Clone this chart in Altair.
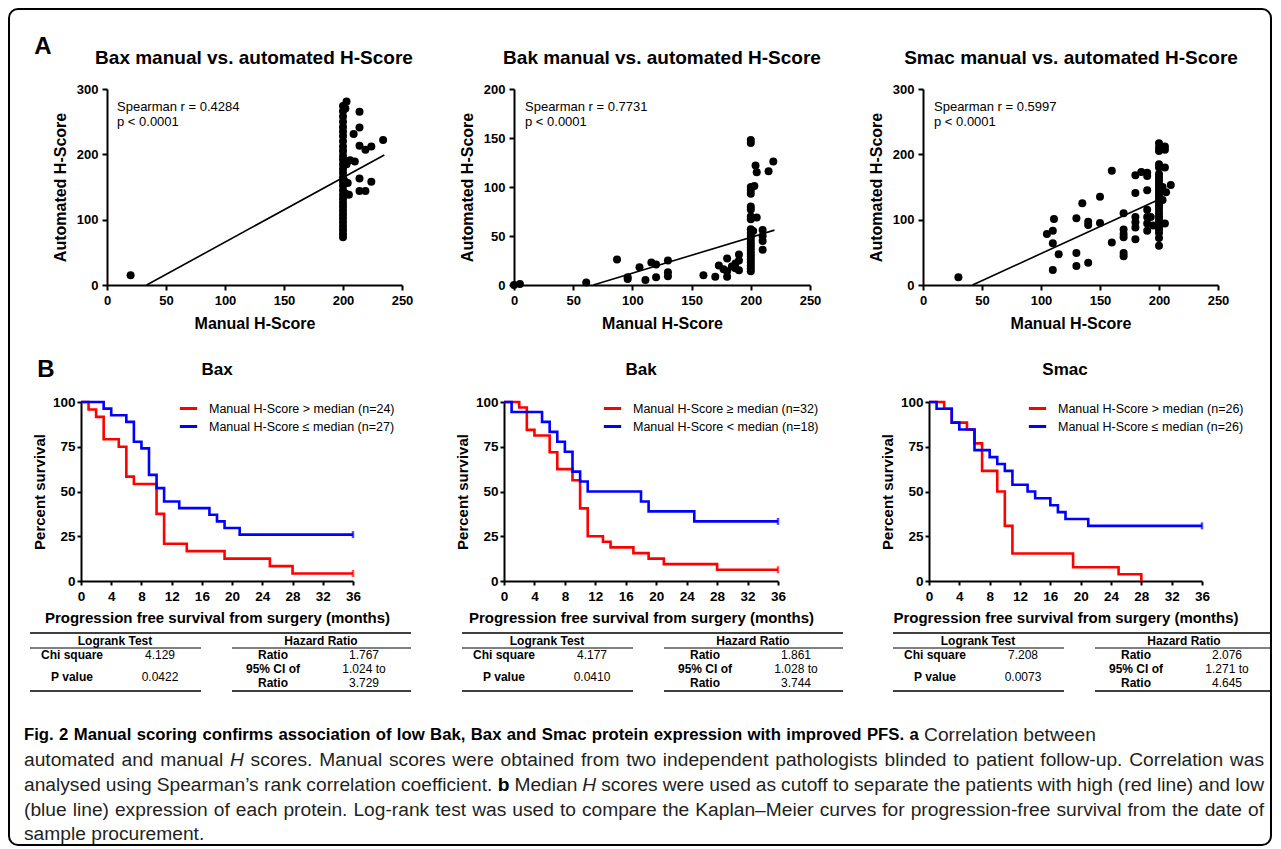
import altair as alt
import pandas as pd

# ---------------- data ----------------
BAX_MANUAL = [20,
              200, 200, 200, 200, 200, 200, 200, 200, 200, 200, 200, 200, 200, 200, 200, 200,
              200, 200, 200, 200, 200, 200, 200, 200, 200, 200, 200, 200, 200, 200, 200,
              203, 202, 202, 203, 201,
              214, 214, 209, 234, 224, 219, 214, 206, 210, 214, 224, 214, 219, 204, 205]
BAX_AUTO = [15,
            73, 78, 84, 90, 96, 102, 108, 114, 120, 126, 132, 138, 145, 152, 158, 165,
            172, 178, 185, 192, 198, 205, 212, 220, 228, 235, 242, 250, 258, 266, 274,
            281, 270, 140, 185, 160,
            265, 241, 231, 222, 212, 207, 213, 191, 189, 163, 158, 144, 144, 156, 138]
BAX_FIT_MANUAL = [33.6, 235]
BAX_FIT_AUTO = [0, 199]

BAK_MANUAL = [0, 5, 61, 87, 96, 96, 106, 111, 116, 120, 120, 130, 130, 130, 160, 170, 173,
              177, 180, 180, 180, 184, 187, 187, 190, 190, 190,
              200, 200, 200, 200, 200, 200, 200, 200, 200, 200, 200, 200,
              200, 200, 200, 200, 200, 200, 200, 200, 200, 200, 200, 200,
              204, 205, 203, 205, 202, 210, 210, 210, 210, 219, 215]
BAK_AUTO = [0, 1, 2.5, 26, 6, 8, 18, 5, 23, 21, 8, 25, 13, 9, 10, 8.5, 20,
            16, 27, 14, 8.5, 19, 22, 17, 15, 25, 31,
            148, 145, 100, 97, 93, 80, 77, 70, 67, 57, 53, 50,
            47, 44, 41, 38, 35, 32, 29, 26, 23, 20, 17, 14,
            122, 115, 101, 69, 55, 56, 50, 45, 36, 126, 116]
BAK_FIT_MANUAL = [67, 220]
BAK_FIT_AUTO = [0, 56]

SMAC_MANUAL = [30, 105, 110, 111, 110, 110, 115, 130, 130, 130, 135, 140, 140, 140, 150, 150,
               160, 160, 170, 170, 170, 170, 170, 170, 180, 180, 180, 180, 180, 180, 185,
               190, 190, 190, 190, 190, 190, 190, 193, 195,
               200, 200, 200, 200, 200, 200, 200, 200, 200, 200, 200, 200, 200,
               200, 200, 200, 200, 200, 200, 200, 200, 200, 200, 200, 200, 200,
               205, 205, 205, 205, 206, 210, 203, 203]
SMAC_AUTO = [12, 78, 83, 101, 64, 23, 47, 102, 49, 29, 125, 97, 92, 34, 95, 135,
             175, 65, 110, 85, 78, 73, 49, 44, 168, 141, 104, 96, 88, 70, 173,
             172, 167, 145, 115, 104, 94, 83, 104, 91,
             217, 210, 205, 185, 180, 170, 165, 160, 155, 150, 145, 140, 135,
             130, 125, 120, 115, 110, 105, 100, 95, 90, 85, 80, 72, 60,
             212, 207, 180, 94, 142, 153, 150, 130]
SMAC_FIT_MANUAL = [42, 200]
SMAC_FIT_AUTO = [0, 131]

BAX_HI_T = [0, 1, 2, 3, 5, 6, 7, 10, 11, 14, 19, 25, 28, 36]
BAX_HI_S = [100, 95.8, 91.7, 79.2, 75.0, 58.3, 54.2, 37.5, 20.8, 16.7, 12.5, 8.3, 4.2, 4.2]
BAX_LO_T = [0, 3, 4, 6, 7, 8, 9, 10, 11, 13, 17, 18, 19, 21, 36]
BAX_LO_S = [100, 96.3, 92.6, 88.9, 77.8, 74.1, 59.3, 51.9, 44.4, 40.7, 37.0, 33.3, 29.6, 25.9, 25.9]
BAK_HI_T = [0, 2, 3, 4, 6, 7, 9, 10, 11, 13, 14, 17, 19, 21, 28, 36]
BAK_HI_S = [100, 96.9, 84.4, 81.3, 71.9, 62.5, 56.3, 40.6, 25.0, 21.9, 18.8, 15.6, 12.5, 9.4, 6.3, 6.3]
BAK_LO_T = [0, 1, 5, 6, 7, 8, 9, 10, 11, 18, 19, 25, 36]
BAK_LO_S = [100, 94.4, 88.9, 83.3, 77.8, 72.2, 61.1, 55.6, 50.0, 44.4, 38.9, 33.3, 33.3]
SMAC_HI_T = [0, 2, 3, 5, 6, 7, 9, 10, 11, 19, 25, 28]
SMAC_HI_S = [100, 96.2, 88.5, 84.6, 76.9, 61.5, 50.0, 30.8, 15.4, 7.7, 3.8, 0]
SMAC_LO_T = [0, 1, 3, 4, 6, 8, 9, 10, 11, 13, 14, 16, 17, 18, 21, 36]
SMAC_LO_S = [100, 96.2, 88.5, 84.6, 73.1, 69.2, 65.4, 61.5, 53.8, 50.0, 46.2, 42.3, 38.5, 34.6, 30.8, 30.8]

SCATTER_XTICKS = [0, 50, 100, 150, 200, 250]
SCATTER_YTICKS = [[0, 100, 200, 300], [0, 50, 100, 150, 200], [0, 100, 200, 300]]
SCATTER_YMAX = [300, 200, 300]
KM_XTICKS = [0, 4, 8, 12, 16, 20, 24, 28, 32, 36]
KM_YTICKS = [0, 25, 50, 75, 100]

SCATTER_TITLES = ["Bax manual vs. automated H-Score", "Bak manual vs. automated H-Score",
                  "Smac manual vs. automated H-Score"]
SPEARMAN_R = ["Spearman r = 0.4284", "Spearman r = 0.7731", "Spearman r = 0.5997"]
SPEARMAN_P = ["p < 0.0001", "p < 0.0001", "p < 0.0001"]
KM_TITLES = ["Bax", "Bak", "Smac"]
KM_LEGENDS = [["Manual H-Score > median (n=24)", "Manual H-Score \u2264 median (n=27)"],
              ["Manual H-Score \u2265 median (n=32)", "Manual H-Score < median (n=18)"],
              ["Manual H-Score > median (n=26)", "Manual H-Score \u2264 median (n=26)"]]
CHI_SQUARE = ["4.129", "4.177", "7.208"]
P_VALUE = ["0.0422", "0.0410", "0.0073"]
HR_RATIO = ["1.767", "1.861", "2.076"]
CI_LOW = ["1.024 to", "1.028 to", "1.271 to"]
CI_HIGH = ["3.729", "3.744", "4.645"]

# caption: runs of (text, style) per line; b = bold, r = regular, i = italic
CAPTION_RUNS = [
    [("Fig. 2 Manual scoring confirms association of low Bak, Bax and Smac protein expression "
      "with improved PFS. a", "b"), ("Correlation between", "r")],
    [("automated and manual", "r"), ("H", "i"),
     ("scores. Manual scores were obtained from two independent pathologists blinded to "
      "patient follow-up. Correlation was", "r")],
    [("analysed using Spearman\u2019s rank correlation coefficient.", "r"), ("b", "b"),
     ("Median", "r"), ("H", "i"),
     ("scores were used as cutoff to separate the patients with high (red line) and low", "r")],
    [("(blue line) expression of each protein. Log-rank test was used to compare the "
      "Kaplan\u2013Meier curves for progression-free survival from the date of", "r")],
    [("sample procurement.", "r")],
]
CAPTION_JUSTIFY = [False, True, True, True, False]

# ---------------- layout ----------------
W, H = 1265, 841
SANS = "Liberation Sans"


def cx(v):
    return v - 8


def cy(v):
    return v - 8


ONE = pd.DataFrame({"k": [0]})


def txt(s, x, y, size, weight="normal", align="left", font=SANS, color="black", style="normal"):
    return alt.Chart(ONE).mark_text(
        text=s, font=font, fontSize=size, fontWeight=weight, fontStyle=style,
        align=align, baseline="middle", color=color
    ).encode(x=alt.value(cx(x)), y=alt.value(cy(y)))


def hline(x0, x1, y, w=1.2):
    return alt.Chart(ONE).mark_rule(color="black", strokeWidth=w).encode(
        x=alt.value(cx(x0)), x2=alt.value(min(cx(x1), W - 3)), y=alt.value(cy(y)))


layers = []

# ---------------- panel A: scatter plots ----------------
SC_X0 = [107, 514, 923]
SC_X1 = [402, 810, 1218]
SC_YB, SC_YT = 285, 89
SC_TITLE_X = [254, 662, 1071]
SP_X = [117, 525, 934]
scatter_data = [(BAX_MANUAL, BAX_AUTO, BAX_FIT_MANUAL, BAX_FIT_AUTO),
                (BAK_MANUAL, BAK_AUTO, BAK_FIT_MANUAL, BAK_FIT_AUTO),
                (SMAC_MANUAL, SMAC_AUTO, SMAC_FIT_MANUAL, SMAC_FIT_AUTO)]

for i, (xs, ys, fx, fy) in enumerate(scatter_data):
    x0, x1 = cx(SC_X0[i]), cx(SC_X1[i])
    yb, yt = cy(SC_YB), cy(SC_YT)
    xsc = alt.Scale(domain=[0, 250], range=[x0, x1], nice=False, zero=False)
    ysc = alt.Scale(domain=[0, SCATTER_YMAX[i]], range=[yb, yt], nice=False, zero=False)
    xaxis = alt.Axis(orient="bottom", offset=yb - H, values=SCATTER_XTICKS, title="Manual H-Score",
                     titleX=(x0 + x1) / 2, titleY=38, titleAlign="center", titleBaseline="middle",
                     titleFontSize=16, labelFontSize=13, tickSize=5, labelPadding=4)
    yaxis = alt.Axis(orient="left", offset=-x0, values=SCATTER_YTICKS[i], title="Automated H-Score",
                     titleX=-47, titleY=(yb + yt) / 2, titleAngle=270, titleAlign="center",
                     titleBaseline="middle", titleFontSize=16, labelFontSize=13, tickSize=5,
                     labelPadding=4)
    pts = alt.Chart(pd.DataFrame({"manual": xs, "auto": ys})).mark_circle(
        size=64, color="black", opacity=1).encode(
        x=alt.X("manual:Q", scale=xsc, axis=xaxis),
        y=alt.Y("auto:Q", scale=ysc, axis=yaxis))
    fit = alt.Chart(pd.DataFrame({"manual": fx, "auto": fy})).mark_line(
        color="black", strokeWidth=1.6).encode(
        x=alt.X("manual:Q", scale=xsc, axis=None),
        y=alt.Y("auto:Q", scale=ysc, axis=None))
    layers += [pts, fit]
    layers.append(txt(SCATTER_TITLES[i], SC_TITLE_X[i], 58, 19, "bold", "center"))
    layers.append(txt(SPEARMAN_R[i], SP_X[i], 107, 13))
    layers.append(txt(SPEARMAN_P[i], SP_X[i], 122, 13))

layers.append(txt("A", 43, 47, 24, "bold", "center"))

# ---------------- panel B: Kaplan-Meier curves ----------------
KM_X0 = [81, 504, 929]
KM_X1 = [353, 778, 1202]
KM_YB, KM_YT = 581, 402
KM_TITLE_X = [217, 641, 1065]
KM_LEG_X = [178, 602, 1027]
km_data = [(BAX_HI_T, BAX_HI_S, BAX_LO_T, BAX_LO_S),
           (BAK_HI_T, BAK_HI_S, BAK_LO_T, BAK_LO_S),
           (SMAC_HI_T, SMAC_HI_S, SMAC_LO_T, SMAC_LO_S)]

for i, (ht, hs, lt, ls) in enumerate(km_data):
    x0, x1 = cx(KM_X0[i]), cx(KM_X1[i])
    yb, yt = cy(KM_YB), cy(KM_YT)
    labels = KM_LEGENDS[i]
    xsc = alt.Scale(domain=[0, 36], range=[x0, x1], nice=False, zero=False)
    ysc = alt.Scale(domain=[0, 100], range=[yb, yt], nice=False, zero=False)
    xaxis = alt.Axis(orient="bottom", offset=yb - H, values=KM_XTICKS,
                     title="Progression free survival from surgery (months)",
                     titleX=(x0 + x1) / 2, titleY=36, titleAlign="center", titleBaseline="middle",
                     titleFontSize=15, labelFontSize=13.5, tickSize=4, labelPadding=4)
    yaxis = alt.Axis(orient="left", offset=-x0, values=KM_YTICKS, title="Percent survival",
                     titleX=-42, titleY=(yb + yt) / 2, titleAngle=270, titleAlign="center",
                     titleBaseline="middle", titleFontSize=15, labelFontSize=13.5, tickSize=4,
                     labelPadding=2)
    df = pd.DataFrame({"months": ht + lt, "survival": hs + ls,
                       "group": [labels[0]] * len(ht) + [labels[1]] * len(lt)})
    cscale = alt.Scale(domain=labels, range=["#ff0000", "#0000ff"])
    legend = alt.Legend(orient="none", legendX=cx(KM_LEG_X[i]), legendY=cy(398), title=None,
                        symbolType="stroke", symbolSize=300, symbolStrokeWidth=3,
                        labelFont=SANS, labelFontSize=12.5, labelColor="black", labelOffset=10,
                        rowPadding=1, padding=0, labelLimit=0)
    line = alt.Chart(df).mark_line(interpolate="step-after", strokeWidth=2.6).encode(
        x=alt.X("months:Q", scale=xsc, axis=xaxis),
        y=alt.Y("survival:Q", scale=ysc, axis=yaxis),
        color=alt.Color("group:N", scale=cscale, legend=legend))
    ends = df[df["months"] == 36]
    cens = alt.Chart(ends).mark_tick(orient="vertical", size=7, thickness=2.5).encode(
        x=alt.X("months:Q", scale=xsc, axis=None),
        y=alt.Y("survival:Q", scale=ysc, axis=None),
        color=alt.Color("group:N", scale=cscale, legend=None))
    layers += [line, cens]
    layers.append(txt(KM_TITLES[i], KM_TITLE_X[i], 370, 17, "bold", "center"))

layers.append(txt("B", 46, 370, 24, "bold", "center"))

# ---------------- statistics tables ----------------
TB_X0 = [30, 462, 893]
TF = 12
for i, x0 in enumerate(TB_X0):
    layers += [
        hline(x0, x0 + 381, 633, 1.5),
        hline(x0, x0 + 171, 648, 1.2),
        hline(x0 + 202, x0 + 381, 648, 1.2),
        hline(x0, x0 + 171, 691, 1.5),
        hline(x0 + 202, x0 + 381, 691, 1.5),
        txt("Logrank Test", x0 + 85, 641, TF, "bold", "center"),
        txt("Hazard Ratio", x0 + 291, 641, TF, "bold", "center"),
        txt("Chi square", x0 + 42, 655, TF, "bold", "center"),
        txt(CHI_SQUARE[i], x0 + 130, 655, TF, "normal", "center"),
        txt("P value", x0 + 42, 677, TF, "bold", "center"),
        txt(P_VALUE[i], x0 + 130, 677, TF, "normal", "center"),
        txt("Ratio", x0 + 243, 655, TF, "bold", "center"),
        txt(HR_RATIO[i], x0 + 334, 655, TF, "normal", "center"),
        txt("95% CI of", x0 + 243, 669, TF, "bold", "center"),
        txt("Ratio", x0 + 243, 683, TF, "bold", "center"),
        txt(CI_LOW[i], x0 + 334, 669, TF, "normal", "center"),
        txt(CI_HIGH[i], x0 + 334, 683, TF, "normal", "center"),
    ]

# ---------------- caption (justified, word by word) ----------------
# advance widths of Liberation Sans (Arial metrics), per 1000 em
REG_W = {' ': 278, ',': 278, '.': 278, '-': 333, '(': 333, ')': 333, '\u2019': 222, '\u2013': 556,
         'A': 667, 'B': 667, 'C': 722, 'D': 722, 'E': 667, 'F': 611, 'G': 778, 'H': 722, 'I': 278,
         'K': 667, 'L': 556, 'M': 833, 'N': 722, 'O': 778, 'P': 667, 'R': 722, 'S': 667, 'T': 611,
         'a': 556, 'b': 556, 'c': 500, 'd': 556, 'e': 556, 'f': 278, 'g': 556, 'h': 556, 'i': 222,
         'j': 222, 'k': 500, 'l': 222, 'm': 833, 'n': 556, 'o': 556, 'p': 556, 'q': 556, 'r': 333,
         's': 500, 't': 278, 'u': 556, 'v': 500, 'w': 722, 'x': 500, 'y': 500, 'z': 500}
BOLD_W = {' ': 278, ',': 278, '.': 278, '-': 333, '(': 333, ')': 333,
          'A': 722, 'B': 722, 'C': 722, 'D': 722, 'E': 667, 'F': 611, 'G': 778, 'H': 722, 'I': 278,
          'K': 722, 'L': 611, 'M': 833, 'N': 722, 'O': 778, 'P': 667, 'R': 722, 'S': 667, 'T': 611,
          'a': 556, 'b': 611, 'c': 556, 'd': 611, 'e': 556, 'f': 333, 'g': 611, 'h': 611, 'i': 278,
          'j': 278, 'k': 556, 'l': 278, 'm': 889, 'n': 611, 'o': 611, 'p': 611, 'q': 611, 'r': 389,
          's': 556, 't': 333, 'u': 611, 'v': 556, 'w': 778, 'x': 556, 'y': 556, 'z': 500}


def em_width(s, style):
    table = BOLD_W if style == "b" else REG_W
    return sum(table.get(ch, 556) for ch in s) / 1000.0


CAP_SIZE = 19.2
CAP_LEFT, CAP_RIGHT = 24, 1264
CAP_Y = [735, 760, 785, 810, 834]
HEAD_WIDTH = 883  # width of the bold heading run in the reference
HEAD_SIZE = HEAD_WIDTH / em_width(CAPTION_RUNS[0][0][0], "b")

cap_rows = []
for li, runs in enumerate(CAPTION_RUNS):
    words = []
    for text, st in runs:
        size = HEAD_SIZE if (li == 0 and st == "b") else CAP_SIZE
        for w in text.split(" "):
            if w:
                words.append((w, st, size, em_width(w, st) * size))
    space = REG_W[' '] / 1000.0 * CAP_SIZE
    natural = sum(w[3] for w in words) + space * (len(words) - 1)
    gap = space
    if CAPTION_JUSTIFY[li] and len(words) > 1:
        gap = max(space * 0.8, space + ((CAP_RIGHT - CAP_LEFT) - natural) / (len(words) - 1))
    x = CAP_LEFT
    for w, st, size, wd in words:
        cap_rows.append({"word": w, "x": cx(x), "y": cy(CAP_Y[li]), "st": st, "size": size})
        x += wd + gap

cap_df = pd.DataFrame(cap_rows)
STYLE_PROPS = {"b": ("bold", "normal", "black"), "r": ("normal", "normal", "#231f20"),
               "i": ("normal", "italic", "#231f20")}
for (st, size), sub in cap_df.groupby(["st", "size"]):
    weight, fstyle, color = STYLE_PROPS[st]
    layers.append(alt.Chart(sub.reset_index(drop=True)).mark_text(
        font=SANS, fontSize=float(size), fontWeight=weight, fontStyle=fstyle, color=color,
        align="left", baseline="middle").encode(
        x=alt.X("x:Q", scale=None, axis=None),
        y=alt.Y("y:Q", scale=None, axis=None),
        text="word:N"))

# ---------------- outer frame ----------------
layers.append(alt.Chart(ONE).mark_rect(fillOpacity=0, stroke="black", strokeWidth=2,
                                       cornerRadius=9).encode(
    x=alt.value(1), x2=alt.value(W - 2), y=alt.value(1), y2=alt.value(cy(845))))

chart = alt.layer(*layers).resolve_scale(
    x="independent", y="independent", color="independent"
).resolve_axis(
    x="independent", y="independent"
).resolve_legend(
    color="independent"
).properties(
    width=W, height=H, autosize=alt.AutoSizeParams(type="none"), padding=0,
    background="white"
).configure_view(stroke=None).configure_axis(
    grid=False, domainColor="black", domainWidth=2, tickColor="black", tickWidth=2,
    labelColor="black", labelFont=SANS, labelFontWeight="bold", titleFont=SANS,
    titleFontWeight="bold", titleColor="black", labelOverlap=False, labelFlush=False,
    labelBound=False
)

chart.save("out.html", embed_options={"renderer": "svg", "actions": False})
